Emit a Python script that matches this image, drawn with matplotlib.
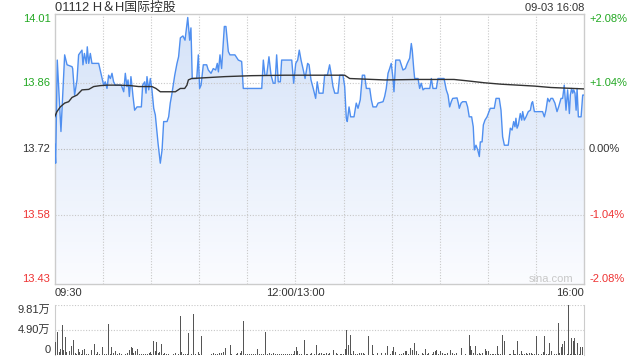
import numpy as np
import matplotlib
matplotlib.use("Agg")
import matplotlib.pyplot as plt
from matplotlib.colors import LinearSegmentedColormap
import matplotlib.transforms as mtransforms

plt.rcParams["font.family"] = ["Liberation Sans", "Noto Sans CJK SC", "DejaVu Sans"]

# --------------- DATA -------------------------------------------------------
title_text = "01112 H＆H国际控股"
stamp_text = "09-03 16:08"
prev_close = 13.72

price_ticks  = [14.01, 13.86, 13.72, 13.58, 13.43]
price_labels = ["14.01", "13.86", "13.72", "13.58", "13.43"]
pct_labels   = ["+2.08%", "+1.04%", "0.00%", "-1.04%", "-2.08%"]
time_ticks   = [0, 150, 330]
time_labels  = ["09:30", "12:00/13:00", "16:00"]
vol_ticks    = [98100, 49000, 0]
vol_labels   = ["9.81万", "4.90万", "0"]

# minutes since 09:30 (lunch break removed), last price
price_min = [0.0, 0.6, 1.6, 3.9, 6.2, 7.7, 10.8, 11.2, 12.4, 13.9, 14.9, 17.0, 17.6, 18.5,
             19.7, 20.3, 21.2, 22.2, 23.2, 27.4, 29.1, 30.5, 31.5, 32.6, 33.6, 34.7, 35.7,
             36.7, 37.8, 41.5, 43.0, 44.0, 45.0, 45.7, 46.5, 47.5, 48.2, 48.8, 49.8, 51.3,
             54.0, 54.8, 56.1, 56.9, 57.5, 58.6, 59.6, 60.6, 61.7, 62.7, 64.4, 65.8, 66.9,
             67.9, 70.0, 71.0, 72.0, 73.1, 74.8, 76.2, 77.2, 78.3, 79.9, 81.2, 82.9, 84.1,
             84.9, 85.7, 88.5, 89.5, 90.3, 91.2, 92.6, 94.7, 95.7, 97.4, 98.8, 100.3, 101.3,
             102.0, 103.0, 104.0, 105.7, 106.7, 108.2, 109.2, 112.3, 114.4, 116.5, 117.5,
             129.0, 130.0, 131.0, 132.1, 133.5, 134.8, 136.2, 137.3, 138.3, 139.3, 140.6,
             141.4, 147.7, 148.9, 150.2, 151.4, 152.4, 153.5, 154.9, 156.0, 157.6, 158.5,
             159.7, 161.1, 162.6, 163.6, 164.7, 167.2, 168.2, 169.9, 171.3, 172.4, 173.4,
             174.5, 176.5, 177.6, 179.6, 180.7, 181.7, 182.3, 183.4, 184.4, 186.5, 187.9,
             189.0, 190.4, 191.7, 193.1, 194.2, 196.3, 197.3, 198.3, 200.4, 201.5, 204.6,
             205.6, 206.6, 207.7, 208.7, 209.7, 210.8, 211.4, 212.5, 215.0, 217.0, 218.5,
             219.7, 221.2, 222.2, 222.8, 223.7, 224.3, 226.4, 227.4, 228.4, 229.5, 230.5,
             233.7, 234.7, 235.7, 237.8, 238.8, 242.6, 244.0, 245.1, 246.1, 247.1, 248.0,
             250.7, 251.5, 252.1, 253.2, 254.2, 256.3, 257.3, 258.3, 259.8, 260.8, 261.5,
             262.5, 263.6, 264.6, 265.2, 266.3, 267.1, 268.1, 269.4, 270.2, 271.4, 273.9,
             275.0, 277.0, 278.1, 279.1, 280.2, 282.6, 283.9, 285.0, 286.0, 286.8, 287.4,
             288.1, 288.9, 290.1, 291.0, 291.6, 292.6, 293.7, 295.1, 296.4, 297.2, 297.8,
             298.9, 304.0, 305.1, 306.1, 307.2, 308.2, 309.2, 310.3, 311.7, 313.0, 314.0,
             315.5, 316.5, 317.5, 318.6, 319.6, 320.7, 321.3, 322.1, 322.8, 323.4, 324.2,
             324.9, 325.5, 326.3, 328.0, 329.0, 330.0]
price_val = [13.730, 13.690, 13.908, 13.757, 13.919, 13.898, 13.894, 13.890, 13.834, 13.866,
             13.919, 13.929, 13.898, 13.922, 13.901, 13.936, 13.901, 13.922, 13.901, 13.901,
             13.876, 13.855, 13.862, 13.848, 13.876, 13.869, 13.880, 13.862, 13.855, 13.855,
             13.841, 13.880, 13.852, 13.866, 13.831, 13.873, 13.852, 13.831, 13.802, 13.809,
             13.809, 13.855, 13.862, 13.838, 13.873, 13.845, 13.869, 13.845, 13.806, 13.792,
             13.732, 13.690, 13.718, 13.778, 13.778, 13.788, 13.817, 13.838, 13.876, 13.901,
             13.915, 13.955, 13.959, 13.950, 13.998, 13.950, 13.976, 13.869, 13.869, 13.919,
             13.848, 13.855, 13.898, 13.898, 13.887, 13.880, 13.890, 13.887, 13.901, 13.883,
             13.919, 13.890, 13.979, 13.979, 13.926, 13.919, 13.919, 13.908, 13.905, 13.848,
             13.848, 13.908, 13.876, 13.876, 13.915, 13.876, 13.859, 13.859, 13.919, 13.862,
             13.862, 13.908, 13.908, 13.859, 13.901, 13.908, 13.929, 13.908, 13.887, 13.869,
             13.901, 13.898, 13.866, 13.848, 13.827, 13.862, 13.838, 13.838, 13.876, 13.876,
             13.898, 13.876, 13.852, 13.838, 13.838, 13.876, 13.876, 13.852, 13.785, 13.778,
             13.809, 13.788, 13.788, 13.817, 13.806, 13.824, 13.876, 13.876, 13.848, 13.848,
             13.824, 13.809, 13.809, 13.817, 13.820, 13.831, 13.848, 13.880, 13.890, 13.901,
             13.869, 13.841, 13.908, 13.908, 13.887, 13.890, 13.901, 13.912, 13.943, 13.929,
             13.890, 13.869, 13.869, 13.848, 13.859, 13.845, 13.848, 13.848, 13.869, 13.848,
             13.848, 13.869, 13.869, 13.845, 13.834, 13.809, 13.820, 13.827, 13.828, 13.817,
             13.806, 13.817, 13.820, 13.820, 13.809, 13.788, 13.788, 13.767, 13.718, 13.728,
             13.718, 13.704, 13.735, 13.735, 13.771, 13.781, 13.788, 13.795, 13.806, 13.806,
             13.827, 13.827, 13.802, 13.746, 13.728, 13.728, 13.764, 13.760, 13.778, 13.767,
             13.785, 13.764, 13.771, 13.795, 13.781, 13.799, 13.781, 13.788, 13.799, 13.802,
             13.817, 13.820, 13.799, 13.799, 13.788, 13.802, 13.827, 13.820, 13.827, 13.827,
             13.817, 13.799, 13.809, 13.827, 13.827, 13.855, 13.802, 13.845, 13.795, 13.834,
             13.848, 13.838, 13.845, 13.838, 13.802, 13.848, 13.788, 13.788, 13.834, 13.834]

# average price line
avg_min = [0.0, 1.4, 3.5, 6.2, 8.7, 10.8, 13.9, 17.0, 21.2, 24.3, 28.4, 32.6, 39.9, 47.1,
           52.3, 60.6, 63.1, 65.8, 75.2, 78.3, 81.0, 82.4, 83.3, 85.3, 106.1, 122.7, 143.5,
           165.9, 180.7, 183.8, 205.6, 226.4, 248.8, 257.3, 267.7, 278.1, 298.9, 309.2, 330.0]
avg_val = [13.788, 13.799, 13.809, 13.817, 13.820, 13.829, 13.834, 13.845, 13.846, 13.852,
           13.854, 13.855, 13.855, 13.854, 13.852, 13.852, 13.848, 13.841, 13.841, 13.848,
           13.848, 13.855, 13.866, 13.869, 13.873, 13.875, 13.876, 13.876, 13.876, 13.869,
           13.866, 13.867, 13.867, 13.864, 13.860, 13.857, 13.853, 13.850, 13.847]

# volume bars (shares)
vol_min = [0.2, 1.6, 2.9, 3.5, 4.8, 5.4, 6.6, 7.5, 8.3, 9.3, 10.2, 11.6, 12.9, 13.5, 14.7,
           15.6, 16.6, 17.6, 18.5, 19.7, 20.8, 22.0, 23.2, 24.7, 25.9, 26.8, 28.0, 29.7,
           30.9, 32.2, 33.4, 34.5, 35.3, 36.5, 37.8, 39.0, 40.3, 41.5, 42.8, 44.0, 45.3,
           46.5, 47.8, 48.4, 49.4, 50.3, 51.5, 52.7, 54.0, 55.2, 56.5, 57.7, 59.0, 59.8,
           60.6, 61.7, 62.7, 63.5, 64.4, 65.2, 66.4, 67.5, 68.3, 69.6, 70.8, 72.1, 73.1,
           74.1, 75.2, 76.2, 77.2, 78.3, 79.3, 80.4, 81.4, 82.5, 83.3, 84.3, 85.3, 86.4,
           87.6, 88.5, 89.5, 90.3, 91.4, 92.6, 93.9, 95.1, 96.4, 97.6, 98.8, 100.1, 101.3,
           102.6, 103.8, 105.1, 106.3, 107.6, 108.8, 109.4,
           110.3, 111.7, 113.0, 114.2, 115.5, 116.5, 117.9, 118.8, 120.0, 121.3, 122.5,
           123.8, 125.0, 126.2, 127.5, 128.7, 130.0, 131.2, 132.5, 133.7, 135.0, 136.2,
           137.5, 138.7, 140.0, 141.2, 142.4, 143.7, 144.9, 146.2, 147.4, 148.7, 149.5,
           150.6, 151.2, 152.4, 153.7, 154.5, 155.6, 156.6, 157.8, 159.1, 160.3, 161.6,
           163.0, 164.1, 165.3, 166.4, 167.4, 168.4, 169.5, 170.5, 171.5, 172.8, 174.0,
           175.3, 176.5, 177.8, 179.0, 179.8, 181.1, 182.1, 183.0, 184.2, 185.2, 186.1,
           187.3, 188.6, 189.8, 191.0, 192.3, 193.3, 194.4, 195.4, 196.5, 197.9, 198.9,
           200.2, 201.4, 202.7, 203.7, 205.2, 206.4, 207.3, 208.3, 209.5, 210.4, 211.0,
           212.2, 213.5, 214.7, 216.0, 217.2, 218.3, 219.3, 220.3,
           222.0, 222.8, 224.1, 225.3, 226.4, 227.6, 228.9, 229.9, 230.9, 232.2, 233.2,
           234.3, 235.3, 236.3, 237.2, 238.0, 239.0, 240.3, 241.5, 242.6, 243.6, 244.6,
           245.7, 246.9, 248.0, 249.0, 250.2, 251.3, 252.4, 253.4, 254.6, 255.7, 256.9,
           258.2, 259.0, 260.0, 261.1, 262.1, 263.3, 264.4, 265.4, 266.7, 267.7, 268.3,
           269.2, 270.6, 271.7, 272.7, 273.7, 274.8, 275.8, 276.8, 277.9, 278.9, 280.2,
           281.2, 282.3, 283.3, 284.3, 285.6, 286.6, 287.4, 288.3, 289.5, 290.6, 291.6,
           292.9, 293.9, 294.9, 296.0, 297.0, 298.0, 299.1, 300.1, 301.3, 302.4, 303.4,
           304.5, 305.5, 306.6, 307.6, 308.4, 309.5, 310.5, 311.6, 312.6, 313.8, 314.7,
           315.7, 316.7, 317.8, 318.6, 319.4, 320.3, 321.3, 322.1, 323.1, 323.8, 324.8,
           325.9, 326.9, 327.9, 328.7, 330.0]
vol_val = [25200, 45100, 5300, 11900, 58300, 9900, 35100, 5300, 700, 8600, 18600, 28500,
           3300, 2000, 11900, 5300, 2000, 9900, 11900, 2000, 2000, 2000, 9900, 21900, 2000,
           5300, 1300, 16600, 2000, 1300, 60300, 2000, 16600, 3300, 8600, 2000, 4600, 1300,
           700, 2000, 4600, 9900, 16600, 13900, 3300, 7300, 12600, 1300, 1300, 1300, 2000,
           1300, 3300, 6600, 2000, 27200, 8600, 25200, 3300, 5300, 21900, 2000, 4000, 1300,
           2000, 700, 4000, 2000, 4600, 7300, 1300, 76900, 5300, 2000, 1300, 1300, 43100,
           59000, 2000, 80900, 1300, 700, 5300, 1300, 37100, 700, 700, 700, 700, 2000, 3300,
           2000, 1300, 3300, 4000, 5300, 14600, 700, 700, 20500,
           2000, 700, 2000, 4000, 3300, 8600, 66300, 2000, 2000, 1300, 1300, 1300, 2000,
           11300, 2000, 2000, 2000, 44400, 2000, 3300, 2000, 3300, 1300, 1300, 1300, 1300,
           1300, 1300, 1300, 1300, 2000, 2000, 8600, 16600, 7300, 2000, 1300, 700, 28500,
           1300, 1300, 2000, 3300, 2000, 20500, 2000, 4600, 4000, 1300, 2000, 4600, 2600,
           4000, 7900, 9900, 4600, 2000, 2000, 2000, 2000, 11900, 49700, 20500, 38500, 2000,
           8000, 2000, 2000, 3300, 3300, 3300, 2000, 700, 37100, 700, 20500, 2000, 2000,
           3300, 2000, 4000, 9900, 3300, 18600, 7300, 2000, 8600, 16600, 6600, 700, 1300,
           1300, 4600, 7300, 8600, 2000,
           13900, 10600, 24500, 7300, 2000, 700, 4600, 2000, 11900, 2000, 3300, 700, 1300,
           5300, 7300, 10600, 2000, 8600, 3300, 1300, 2000, 4000, 4600, 10600, 3300, 1300,
           3300, 2000, 700, 14600, 700, 2000, 1300, 38500, 18600, 9900, 3300, 18600, 2000,
           4600, 2000, 4000, 700, 11900, 7300, 8600, 2000, 2000, 2000, 2000, 17200, 1300,
           1300, 38500, 26500, 2000, 700, 1300, 2000, 9900, 2000, 1300, 26500, 2000, 7300,
           2000, 1300, 4000, 2000, 4000, 4000, 1300, 1300, 36500, 1300, 4000, 2000, 5300,
           36500, 2000, 2000, 23900, 8600, 7300, 2000, 2000, 63000, 3300, 15200, 21200,
           26500, 8600, 2000, 98100, 2000, 33800, 27200, 33800, 2000, 24500, 2000, 15200,
           15200, 43800]

# --------------- STYLE ------------------------------------------------------
c_line  = "#4f8ff0"
c_avg   = "#333333"
c_green = "#22a822"
c_red   = "#ee3333"
c_text  = "#333333"
c_grid  = "#c8c8c8"
c_frame = "#cccccc"
dots    = (0, (1, 1.5))

span = 0.0208
ylo, yhi = prev_close * (1 - span), prev_close * (1 + span)

fig = plt.figure(figsize=(6.4, 3.6), dpi=100)
ax  = fig.add_axes([54.7 / 640, 1 - 284 / 360, 529.6 / 640, 270 / 360])
axv = fig.add_axes([54.7 / 640, 1 - 355 / 360, 529.6 / 640, 50 / 360])

# --------------- PRICE PANEL ------------------------------------------------
grad = np.linspace(1, 0, 256).reshape(-1, 1)
cmap = LinearSegmentedColormap.from_list("fill", ["#fbfcff", "#d4e2f8"])
poly = ax.fill_between(price_min, price_val, ylo, facecolor="none", edgecolor="none")
im = ax.imshow(grad, extent=[0, 330, ylo, yhi], aspect="auto", cmap=cmap,
               origin="upper", zorder=1, interpolation="bilinear")
im.set_clip_path(poly.get_paths()[0], transform=ax.transData)

ax.plot(price_min, price_val, color=c_line, lw=1.0, zorder=3)
ax.plot(avg_min, avg_val, color=c_avg, lw=1.0, zorder=4)

for t in range(30, 330, 30):
    ax.axvline(t, color=c_grid, lw=0.8, ls=dots, zorder=2)
for p in price_ticks[1:-1]:
    ax.axhline(p, color="#b8b8b8" if p == prev_close else c_grid, lw=0.8, ls=dots, zorder=2)

ax.set_xlim(0, 330)
ax.set_ylim(ylo, yhi)
ax.set_xticks([])
ax.set_yticks([])
for s in ax.spines.values():
    s.set_color(c_frame)
    s.set_linewidth(1.0)

trans_l = mtransforms.blended_transform_factory(ax.transAxes, ax.transData)
for i, (p, lab, pct) in enumerate(zip(price_ticks, price_labels, pct_labels)):
    col = c_green if p > prev_close else (c_red if p < prev_close else c_text)
    va = "top" if i == 0 else ("bottom" if i == len(price_ticks) - 1 else "center")
    yy = yhi if i == 0 else (ylo if i == len(price_ticks) - 1 else p)
    ax.text(-0.008, yy, lab, transform=trans_l, ha="right", va=va, color=col, fontsize=8)
    ax.text(1.009, yy, pct, transform=trans_l, ha="left", va=va, color=col, fontsize=8)

trans_x = mtransforms.blended_transform_factory(ax.transData, ax.transAxes)
for t, lab in zip(time_ticks, time_labels):
    ha = "left" if t == 0 else ("right" if t == 330 else "center")
    ax.text(t, -0.033, lab, transform=trans_x, ha=ha, va="center", color=c_text, fontsize=8)

ax.text(0.979, 0.02, "sina.com", transform=ax.transAxes, ha="right", va="center",
        color="#c8c8c8", fontsize=8)

fig.text(55 / 640, 1 - 8 / 360, title_text, ha="left", va="center", color=c_text, fontsize=9.3)
fig.text(584 / 640, 1 - 8 / 360, stamp_text, ha="right", va="center", color=c_text, fontsize=8)

# --------------- VOLUME PANEL -----------------------------------------------
axv.bar(vol_min, vol_val, width=0.6, color="#555555", zorder=3)
for v in vol_ticks[:-1]:
    axv.axhline(v, color=c_grid, lw=0.8, ls=dots, zorder=1)
axv.set_xlim(0, 330)
axv.set_ylim(0, 98100)
axv.set_xticks([])
axv.set_yticks([])
for k, s in axv.spines.items():
    if k in ("left", "right"):
        s.set_color(c_frame)
    else:
        s.set_visible(False)

trans_v = mtransforms.blended_transform_factory(axv.transAxes, axv.transData)
for i, (v, lab) in enumerate(zip(vol_ticks, vol_labels)):
    va = "top" if i == 0 else ("bottom" if i == len(vol_ticks) - 1 else "center")
    axv.text(-0.008, v, lab, transform=trans_v, ha="right", va=va, color=c_text, fontsize=8)

fig.savefig("out.png", dpi=100, facecolor="white")
